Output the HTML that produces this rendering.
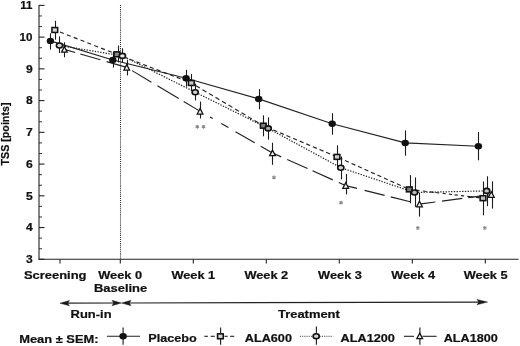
<!DOCTYPE html>
<html><head><meta charset="utf-8"><title>chart</title>
<style>html,body{margin:0;padding:0;background:#fff;}svg{display:block;filter:grayscale(1);}text{font-family:"Liberation Sans",sans-serif;font-weight:bold;fill:#111;stroke:#111;stroke-width:0.22px;}</style>
</head><body>
<svg width="520" height="346" viewBox="0 0 520 346">
<rect width="520" height="346" fill="#fff"/>
<g stroke="#222" stroke-width="1.1" fill="none">
<line x1="39.0" y1="4.880000000000024" x2="39.0" y2="259.8"/>
<line x1="38.5" y1="259.3" x2="518.6" y2="259.3"/>
<line x1="39.0" y1="259.30" x2="44.5" y2="259.30"/>
<line x1="39.0" y1="248.72" x2="42.0" y2="248.72" stroke-width="0.9"/>
<line x1="39.0" y1="238.14" x2="42.0" y2="238.14" stroke-width="0.9"/>
<line x1="39.0" y1="227.56" x2="44.5" y2="227.56"/>
<line x1="39.0" y1="216.98" x2="42.0" y2="216.98" stroke-width="0.9"/>
<line x1="39.0" y1="206.40" x2="42.0" y2="206.40" stroke-width="0.9"/>
<line x1="39.0" y1="195.82" x2="44.5" y2="195.82"/>
<line x1="39.0" y1="185.24" x2="42.0" y2="185.24" stroke-width="0.9"/>
<line x1="39.0" y1="174.66" x2="42.0" y2="174.66" stroke-width="0.9"/>
<line x1="39.0" y1="164.08" x2="44.5" y2="164.08"/>
<line x1="39.0" y1="153.50" x2="42.0" y2="153.50" stroke-width="0.9"/>
<line x1="39.0" y1="142.92" x2="42.0" y2="142.92" stroke-width="0.9"/>
<line x1="39.0" y1="132.34" x2="44.5" y2="132.34"/>
<line x1="39.0" y1="121.76" x2="42.0" y2="121.76" stroke-width="0.9"/>
<line x1="39.0" y1="111.18" x2="42.0" y2="111.18" stroke-width="0.9"/>
<line x1="39.0" y1="100.60" x2="44.5" y2="100.60"/>
<line x1="39.0" y1="90.02" x2="42.0" y2="90.02" stroke-width="0.9"/>
<line x1="39.0" y1="79.44" x2="42.0" y2="79.44" stroke-width="0.9"/>
<line x1="39.0" y1="68.86" x2="44.5" y2="68.86"/>
<line x1="39.0" y1="58.28" x2="42.0" y2="58.28" stroke-width="0.9"/>
<line x1="39.0" y1="47.70" x2="42.0" y2="47.70" stroke-width="0.9"/>
<line x1="39.0" y1="37.12" x2="44.5" y2="37.12"/>
<line x1="39.0" y1="26.54" x2="42.0" y2="26.54" stroke-width="0.9"/>
<line x1="39.0" y1="15.96" x2="42.0" y2="15.96" stroke-width="0.9"/>
<line x1="39.0" y1="5.38" x2="44.5" y2="5.38"/>
<line x1="60" y1="259.3" x2="60" y2="263.5"/>
<line x1="120.3" y1="259.3" x2="120.3" y2="263.5"/>
<line x1="193.3" y1="259.3" x2="193.3" y2="263.5"/>
<line x1="266.3" y1="259.3" x2="266.3" y2="263.5"/>
<line x1="339.3" y1="259.3" x2="339.3" y2="263.5"/>
<line x1="412.3" y1="259.3" x2="412.3" y2="263.5"/>
<line x1="485.3" y1="259.3" x2="485.3" y2="263.5"/>
</g>
<line x1="120.5" y1="5" x2="120.5" y2="259" stroke="#2a2a2a" stroke-width="1.05" stroke-dasharray="1 0.95"/>
<text transform="translate(32.85,263.10) scale(1.12,1)" font-size="10.8" text-anchor="end" stroke="#111" stroke-width="0.45">3</text>
<text transform="translate(32.85,231.36) scale(1.12,1)" font-size="10.8" text-anchor="end" stroke="#111" stroke-width="0.45">4</text>
<text transform="translate(32.85,199.62) scale(1.12,1)" font-size="10.8" text-anchor="end" stroke="#111" stroke-width="0.45">5</text>
<text transform="translate(32.85,167.88) scale(1.12,1)" font-size="10.8" text-anchor="end" stroke="#111" stroke-width="0.45">6</text>
<text transform="translate(32.85,136.14) scale(1.12,1)" font-size="10.8" text-anchor="end" stroke="#111" stroke-width="0.45">7</text>
<text transform="translate(32.85,104.40) scale(1.12,1)" font-size="10.8" text-anchor="end" stroke="#111" stroke-width="0.45">8</text>
<text transform="translate(32.85,72.66) scale(1.12,1)" font-size="10.8" text-anchor="end" stroke="#111" stroke-width="0.45">9</text>
<text transform="translate(32.40,40.92) scale(1.07,1)" font-size="10.8" text-anchor="end" stroke="#111" stroke-width="0.45">10</text>
<text transform="translate(32.40,9.18) scale(1.07,1)" font-size="10.8" text-anchor="end" stroke="#111" stroke-width="0.45">11</text>
<text transform="translate(9.0,134) rotate(-90) scale(1.0,1.0)" font-size="10.7" text-anchor="middle">TSS [points]</text>
<text transform="translate(55.20,278.60) scale(1.147,1)" font-size="11.3" text-anchor="middle">Screening</text>
<text transform="translate(120.20,278.60) scale(1.133236,1)" font-size="11.3" text-anchor="middle">Week 0</text>
<text transform="translate(193.30,278.60) scale(1.133236,1)" font-size="11.3" text-anchor="middle">Week 1</text>
<text transform="translate(266.30,278.60) scale(1.133236,1)" font-size="11.3" text-anchor="middle">Week 2</text>
<text transform="translate(340.00,278.60) scale(1.133236,1)" font-size="11.3" text-anchor="middle">Week 3</text>
<text transform="translate(413.20,278.60) scale(1.133236,1)" font-size="11.3" text-anchor="middle">Week 4</text>
<text transform="translate(485.70,278.60) scale(1.133236,1)" font-size="11.3" text-anchor="middle">Week 5</text>
<text transform="translate(120.60,292.30) scale(1.147,1)" font-size="11.3" text-anchor="middle">Baseline</text>
<text transform="translate(91.10,317.50) scale(1.147,1)" font-size="11.3" text-anchor="middle">Run-in</text>
<text transform="translate(308.90,318.20) scale(1.147,1)" font-size="11.3" text-anchor="middle">Treatment</text>
<g stroke="#222" stroke-width="1.1" fill="#1a1a1a">
<line x1="63" y1="303.14" x2="118" y2="303.01"/>
<line x1="125" y1="302.99" x2="484" y2="302.11"/>
<path d="M59.9,303.15 L69.5,300.45 L67.7,303.15 L69.5,305.85 Z" stroke="#1a1a1a" stroke-width="0.4" stroke-linejoin="round"/>
<path d="M121.5,303.00 L111.9,300.30 L113.7,303.00 L111.9,305.70 Z" stroke="#1a1a1a" stroke-width="0.4" stroke-linejoin="round"/>
<path d="M121.5,303.00 L131.1,300.30 L129.3,303.00 L131.1,305.70 Z" stroke="#1a1a1a" stroke-width="0.4" stroke-linejoin="round"/>
<path d="M487.6,302.10 L477.0,299.40 L478.8,302.10 L477.0,304.80 Z" stroke="#1a1a1a" stroke-width="0.4" stroke-linejoin="round"/>
</g>
<path d="M50.40,40.90 L112.80,60.00 L186.10,78.20 L258.70,98.90 L332.20,123.80 L405.20,142.90 L478.40,146.20" fill="none" stroke="#222" stroke-width="1.15"/>
<path d="M59.50,45.50 L122.40,55.90 L195.20,92.20 L268.20,128.40 L340.80,167.70 L414.50,192.50 L486.70,190.90" fill="none" stroke="#222" stroke-width="1.2" stroke-dasharray="1.35 1.4"/>
<polyline points="54.80,30.00 56.95,30.84" fill="none" stroke="#222" stroke-width="1.15"/>
<polyline points="60.00,32.03 63.80,33.52" fill="none" stroke="#222" stroke-width="1.15"/>
<polyline points="66.85,34.72 70.65,36.20" fill="none" stroke="#222" stroke-width="1.15"/>
<polyline points="73.70,37.40 77.50,38.88" fill="none" stroke="#222" stroke-width="1.15"/>
<polyline points="80.55,40.08 84.35,41.56" fill="none" stroke="#222" stroke-width="1.15"/>
<polyline points="87.40,42.76 91.20,44.24" fill="none" stroke="#222" stroke-width="1.15"/>
<polyline points="94.25,45.44 98.05,46.92" fill="none" stroke="#222" stroke-width="1.15"/>
<polyline points="101.10,48.12 104.90,49.60" fill="none" stroke="#222" stroke-width="1.15"/>
<polyline points="107.95,50.80 111.75,52.28" fill="none" stroke="#222" stroke-width="1.15"/>
<polyline points="114.80,53.48 116.90,54.30" fill="none" stroke="#222" stroke-width="1.15"/>
<polyline points="116.90,54.30 120.20,55.57" fill="none" stroke="#222" stroke-width="1.15"/>
<polyline points="123.10,56.69 126.90,58.16" fill="none" stroke="#222" stroke-width="1.15"/>
<polyline points="129.80,59.28 133.60,60.74" fill="none" stroke="#222" stroke-width="1.15"/>
<polyline points="136.50,61.86 140.30,63.33" fill="none" stroke="#222" stroke-width="1.15"/>
<polyline points="143.20,64.45 147.00,65.91" fill="none" stroke="#222" stroke-width="1.15"/>
<polyline points="149.90,67.03 153.70,68.50" fill="none" stroke="#222" stroke-width="1.15"/>
<polyline points="156.60,69.61 160.40,71.08" fill="none" stroke="#222" stroke-width="1.15"/>
<polyline points="163.30,72.20 167.10,73.66" fill="none" stroke="#222" stroke-width="1.15"/>
<polyline points="170.00,74.78 173.80,76.25" fill="none" stroke="#222" stroke-width="1.15"/>
<polyline points="176.70,77.37 180.50,78.83" fill="none" stroke="#222" stroke-width="1.15"/>
<polyline points="183.40,79.95 187.20,81.42" fill="none" stroke="#222" stroke-width="1.15"/>
<polyline points="190.10,82.54 191.30,83.00" fill="none" stroke="#222" stroke-width="1.15"/>
<polyline points="191.30,83.00 193.40,84.25" fill="none" stroke="#222" stroke-width="1.15"/>
<polyline points="196.00,85.79 199.90,88.10" fill="none" stroke="#222" stroke-width="1.15"/>
<polyline points="202.50,89.64 206.40,91.96" fill="none" stroke="#222" stroke-width="1.15"/>
<polyline points="209.00,93.50 212.90,95.81" fill="none" stroke="#222" stroke-width="1.15"/>
<polyline points="215.50,97.35 219.40,99.66" fill="none" stroke="#222" stroke-width="1.15"/>
<polyline points="222.00,101.21 225.90,103.52" fill="none" stroke="#222" stroke-width="1.15"/>
<polyline points="228.50,105.06 232.40,107.37" fill="none" stroke="#222" stroke-width="1.15"/>
<polyline points="235.00,108.92 238.90,111.23" fill="none" stroke="#222" stroke-width="1.15"/>
<polyline points="241.50,112.77 245.40,115.08" fill="none" stroke="#222" stroke-width="1.15"/>
<polyline points="248.00,116.63 251.90,118.94" fill="none" stroke="#222" stroke-width="1.15"/>
<polyline points="254.50,120.48 258.40,122.79" fill="none" stroke="#222" stroke-width="1.15"/>
<polyline points="261.00,124.34 263.30,125.70" fill="none" stroke="#222" stroke-width="1.15"/>
<polyline points="263.30,125.70 264.00,126.00" fill="none" stroke="#222" stroke-width="1.15"/>
<polyline points="266.70,127.14 270.60,128.79" fill="none" stroke="#222" stroke-width="1.15"/>
<polyline points="273.30,129.93 277.20,131.58" fill="none" stroke="#222" stroke-width="1.15"/>
<polyline points="279.90,132.73 283.80,134.38" fill="none" stroke="#222" stroke-width="1.15"/>
<polyline points="286.50,135.52 290.40,137.17" fill="none" stroke="#222" stroke-width="1.15"/>
<polyline points="293.10,138.32 297.00,139.97" fill="none" stroke="#222" stroke-width="1.15"/>
<polyline points="299.70,141.11 303.60,142.76" fill="none" stroke="#222" stroke-width="1.15"/>
<polyline points="306.30,143.90 310.20,145.55" fill="none" stroke="#222" stroke-width="1.15"/>
<polyline points="312.90,146.70 316.80,148.35" fill="none" stroke="#222" stroke-width="1.15"/>
<polyline points="319.50,149.49 323.40,151.14" fill="none" stroke="#222" stroke-width="1.15"/>
<polyline points="326.10,152.29 330.00,153.94" fill="none" stroke="#222" stroke-width="1.15"/>
<polyline points="332.70,155.08 336.60,156.73" fill="none" stroke="#222" stroke-width="1.15"/>
<polyline points="338.56,157.60 342.36,159.31" fill="none" stroke="#222" stroke-width="1.15"/>
<polyline points="345.04,160.51 348.84,162.22" fill="none" stroke="#222" stroke-width="1.15"/>
<polyline points="351.52,163.43 355.32,165.14" fill="none" stroke="#222" stroke-width="1.15"/>
<polyline points="358.00,166.34 361.80,168.05" fill="none" stroke="#222" stroke-width="1.15"/>
<polyline points="364.48,169.25 368.28,170.96" fill="none" stroke="#222" stroke-width="1.15"/>
<polyline points="370.96,172.17 374.76,173.87" fill="none" stroke="#222" stroke-width="1.15"/>
<polyline points="377.44,175.08 381.24,176.79" fill="none" stroke="#222" stroke-width="1.15"/>
<polyline points="383.92,177.99 387.72,179.70" fill="none" stroke="#222" stroke-width="1.15"/>
<polyline points="390.40,180.90 394.20,182.61" fill="none" stroke="#222" stroke-width="1.15"/>
<polyline points="396.88,183.82 400.68,185.53" fill="none" stroke="#222" stroke-width="1.15"/>
<polyline points="403.36,186.73 407.16,188.44" fill="none" stroke="#222" stroke-width="1.15"/>
<polyline points="415.50,190.14 419.50,190.62" fill="none" stroke="#222" stroke-width="1.15"/>
<polyline points="422.90,191.02 426.70,191.48" fill="none" stroke="#222" stroke-width="1.15"/>
<polyline points="429.90,191.86 433.70,192.31" fill="none" stroke="#222" stroke-width="1.15"/>
<polyline points="435.60,192.54 439.40,192.99" fill="none" stroke="#222" stroke-width="1.15"/>
<polyline points="442.60,193.38 445.70,193.75" fill="none" stroke="#222" stroke-width="1.15"/>
<polyline points="448.90,194.13 452.10,194.51" fill="none" stroke="#222" stroke-width="1.15"/>
<polyline points="454.60,194.81 457.80,195.19" fill="none" stroke="#222" stroke-width="1.15"/>
<polyline points="461.00,195.57 464.10,195.94" fill="none" stroke="#222" stroke-width="1.15"/>
<polyline points="467.30,196.33 473.60,197.08" fill="none" stroke="#222" stroke-width="1.15"/>
<polyline points="476.00,197.36 483.00,198.20" fill="none" stroke="#222" stroke-width="1.15"/>
<polyline points="64.40,49.40 75.20,52.52" fill="none" stroke="#222" stroke-width="1.15"/>
<polyline points="80.30,53.99 100.40,59.80" fill="none" stroke="#222" stroke-width="1.15"/>
<polyline points="106.60,61.59 126.70,67.40" fill="none" stroke="#222" stroke-width="1.15"/>
<polyline points="132.10,70.63 151.40,82.17" fill="none" stroke="#222" stroke-width="1.15"/>
<polyline points="157.40,85.76 178.70,98.50" fill="none" stroke="#222" stroke-width="1.15"/>
<polyline points="183.70,101.49 199.80,111.12" fill="none" stroke="#222" stroke-width="1.15"/>
<polyline points="209.80,116.89 212.80,118.61" fill="none" stroke="#222" stroke-width="1.15"/>
<polyline points="221.30,123.51 228.40,127.60" fill="none" stroke="#222" stroke-width="1.15"/>
<polyline points="235.50,131.69 254.70,142.75" fill="none" stroke="#222" stroke-width="1.15"/>
<polyline points="260.70,146.20 272.50,153.00" fill="none" stroke="#222" stroke-width="1.15"/>
<polyline points="272.70,153.09 281.20,156.87" fill="none" stroke="#222" stroke-width="1.15"/>
<polyline points="287.20,159.55 307.50,168.59" fill="none" stroke="#222" stroke-width="1.15"/>
<polyline points="312.50,170.81 332.80,179.85" fill="none" stroke="#222" stroke-width="1.15"/>
<polyline points="338.80,182.53 345.70,185.60" fill="none" stroke="#222" stroke-width="1.15"/>
<polyline points="345.70,185.60 357.00,188.43" fill="none" stroke="#222" stroke-width="1.15"/>
<polyline points="364.60,190.34 384.60,195.35" fill="none" stroke="#222" stroke-width="1.15"/>
<polyline points="390.70,196.88 410.20,201.77" fill="none" stroke="#222" stroke-width="1.15"/>
<polyline points="421.00,203.90 435.30,202.01" fill="none" stroke="#222" stroke-width="1.15"/>
<polyline points="442.00,201.12 462.30,198.44" fill="none" stroke="#222" stroke-width="1.15"/>
<polyline points="468.30,197.64 480.00,196.10" fill="none" stroke="#222" stroke-width="1.15"/>
<polyline points="488.00,195.04 491.30,194.60" fill="none" stroke="#222" stroke-width="1.15"/>
<line x1="50.5" y1="33.3" x2="50.5" y2="49.6" stroke="#1c1c1c" stroke-width="1.1"/>
<line x1="113.5" y1="52.0" x2="113.5" y2="67.6" stroke="#1c1c1c" stroke-width="1.1"/>
<line x1="186.5" y1="69.8" x2="186.5" y2="86.7" stroke="#1c1c1c" stroke-width="1.1"/>
<line x1="259.5" y1="89.1" x2="259.5" y2="109.2" stroke="#1c1c1c" stroke-width="1.1"/>
<line x1="332.5" y1="113.2" x2="332.5" y2="134.7" stroke="#1c1c1c" stroke-width="1.1"/>
<line x1="405.5" y1="130.4" x2="405.5" y2="155.7" stroke="#1c1c1c" stroke-width="1.1"/>
<line x1="478.5" y1="132.0" x2="478.5" y2="160.3" stroke="#1c1c1c" stroke-width="1.1"/>
<line x1="55.5" y1="20.8" x2="55.5" y2="39.7" stroke="#1c1c1c" stroke-width="1.1"/>
<line x1="118.5" y1="45.5" x2="118.5" y2="62.4" stroke="#1c1c1c" stroke-width="1.1"/>
<line x1="191.5" y1="74.0" x2="191.5" y2="91.0" stroke="#1c1c1c" stroke-width="1.1"/>
<line x1="263.5" y1="115.3" x2="263.5" y2="136.3" stroke="#1c1c1c" stroke-width="1.1"/>
<line x1="337.5" y1="145.3" x2="337.5" y2="166.0" stroke="#1c1c1c" stroke-width="1.1"/>
<line x1="410.5" y1="175.1" x2="410.5" y2="203.3" stroke="#1c1c1c" stroke-width="1.1"/>
<line x1="483.5" y1="181.4" x2="483.5" y2="215.3" stroke="#1c1c1c" stroke-width="1.1"/>
<line x1="59.5" y1="36.4" x2="59.5" y2="53.0" stroke="#1c1c1c" stroke-width="1.1"/>
<line x1="122.5" y1="48.3" x2="122.5" y2="62.6" stroke="#1c1c1c" stroke-width="1.1"/>
<line x1="195.5" y1="83.5" x2="195.5" y2="100.5" stroke="#1c1c1c" stroke-width="1.1"/>
<line x1="268.5" y1="117.3" x2="268.5" y2="139.7" stroke="#1c1c1c" stroke-width="1.1"/>
<line x1="341.5" y1="156.5" x2="341.5" y2="179.4" stroke="#1c1c1c" stroke-width="1.1"/>
<line x1="415.5" y1="177.4" x2="415.5" y2="206.9" stroke="#1c1c1c" stroke-width="1.1"/>
<line x1="487.5" y1="176.3" x2="487.5" y2="206.2" stroke="#1c1c1c" stroke-width="1.1"/>
<line x1="64.5" y1="42.3" x2="64.5" y2="57.2" stroke="#1c1c1c" stroke-width="1.1"/>
<line x1="127.5" y1="59.8" x2="127.5" y2="75.4" stroke="#1c1c1c" stroke-width="1.1"/>
<line x1="200.5" y1="101.6" x2="200.5" y2="118.5" stroke="#1c1c1c" stroke-width="1.1"/>
<line x1="272.5" y1="142.8" x2="272.5" y2="164.8" stroke="#1c1c1c" stroke-width="1.1"/>
<line x1="346.5" y1="174.0" x2="346.5" y2="194.4" stroke="#1c1c1c" stroke-width="1.1"/>
<line x1="419.5" y1="193.0" x2="419.5" y2="216.6" stroke="#1c1c1c" stroke-width="1.1"/>
<line x1="492.5" y1="181.3" x2="492.5" y2="208.6" stroke="#1c1c1c" stroke-width="1.1"/>
<ellipse cx="50.4" cy="40.9" rx="3.7" ry="3.25" fill="#111"/>
<ellipse cx="112.8" cy="60.0" rx="3.7" ry="3.25" fill="#111"/>
<ellipse cx="186.1" cy="78.2" rx="3.7" ry="3.25" fill="#111"/>
<ellipse cx="258.7" cy="98.9" rx="3.7" ry="3.25" fill="#111"/>
<ellipse cx="332.2" cy="123.8" rx="3.7" ry="3.25" fill="#111"/>
<ellipse cx="405.2" cy="142.9" rx="3.7" ry="3.25" fill="#111"/>
<ellipse cx="478.4" cy="146.2" rx="3.7" ry="3.25" fill="#111"/>
<rect x="51.95" y="27.55" width="5.7" height="4.9" fill="#d6d6d6" stroke="#111" stroke-width="1.55"/>
<rect x="114.05" y="51.85" width="5.7" height="4.9" fill="#8a8a8a" stroke="#111" stroke-width="1.55"/>
<rect x="188.45" y="80.55" width="5.7" height="4.9" fill="#c8c8c8" stroke="#111" stroke-width="1.55"/>
<rect x="260.45" y="123.25" width="5.7" height="4.9" fill="#808080" stroke="#111" stroke-width="1.55"/>
<rect x="334.15" y="154.45" width="5.7" height="4.9" fill="#cccccc" stroke="#111" stroke-width="1.55"/>
<rect x="406.45" y="186.95" width="5.7" height="4.9" fill="#7c7c7c" stroke="#111" stroke-width="1.55"/>
<rect x="480.15" y="195.75" width="5.7" height="4.9" fill="#bdbdbd" stroke="#111" stroke-width="1.55"/>
<ellipse cx="59.50" cy="45.50" rx="3.1" ry="2.5" fill="#d8d8d8" stroke="#111" stroke-width="1.6"/>
<ellipse cx="122.40" cy="55.90" rx="3.1" ry="2.5" fill="#e6e6e6" stroke="#111" stroke-width="1.6"/>
<ellipse cx="195.20" cy="92.20" rx="3.1" ry="2.5" fill="#cfcfcf" stroke="#111" stroke-width="1.6"/>
<ellipse cx="268.20" cy="128.40" rx="3.1" ry="2.5" fill="#a8a8a8" stroke="#111" stroke-width="1.6"/>
<ellipse cx="340.80" cy="167.70" rx="3.1" ry="2.5" fill="#d0d0d0" stroke="#111" stroke-width="1.6"/>
<ellipse cx="414.50" cy="192.50" rx="3.1" ry="2.5" fill="#b8b8b8" stroke="#111" stroke-width="1.6"/>
<ellipse cx="486.70" cy="190.90" rx="3.1" ry="2.5" fill="#c6c6c6" stroke="#111" stroke-width="1.6"/>
<path d="M64.4,46.5 L67.2,52.1 L61.6,52.1 Z" fill="#f0f0f0" stroke="#111" stroke-width="1.25"/>
<path d="M126.7,64.5 L129.6,70.1 L123.9,70.1 Z" fill="#f0f0f0" stroke="#111" stroke-width="1.25"/>
<path d="M200.1,108.4 L202.9,114.0 L197.2,114.0 Z" fill="#f0f0f0" stroke="#111" stroke-width="1.25"/>
<path d="M272.5,150.1 L275.4,155.7 L269.6,155.7 Z" fill="#f0f0f0" stroke="#111" stroke-width="1.25"/>
<path d="M345.7,182.7 L348.6,188.3 L342.8,188.3 Z" fill="#f0f0f0" stroke="#111" stroke-width="1.25"/>
<path d="M419.5,201.2 L422.4,206.8 L416.6,206.8 Z" fill="#f0f0f0" stroke="#111" stroke-width="1.25"/>
<path d="M491.3,191.7 L494.2,197.3 L488.4,197.3 Z" fill="#f0f0f0" stroke="#111" stroke-width="1.25"/>
<path d="M197.3,124.9 L197.3,128.70000000000002 M195.60000000000002,125.80000000000001 L199.0,127.80000000000001 M195.60000000000002,127.80000000000001 L199.0,125.80000000000001" stroke="#8a8a8a" stroke-width="1.15" fill="none"/>
<path d="M203.5,124.9 L203.5,128.70000000000002 M201.8,125.80000000000001 L205.2,127.80000000000001 M201.8,127.80000000000001 L205.2,125.80000000000001" stroke="#8a8a8a" stroke-width="1.15" fill="none"/>
<path d="M274.0,175.5 L274.0,179.3 M272.3,176.4 L275.7,178.4 M272.3,178.4 L275.7,176.4" stroke="#8a8a8a" stroke-width="1.15" fill="none"/>
<path d="M341,200.8 L341,204.60000000000002 M339.3,201.70000000000002 L342.7,203.70000000000002 M339.3,203.70000000000002 L342.7,201.70000000000002" stroke="#8a8a8a" stroke-width="1.15" fill="none"/>
<path d="M417.8,226.0 L417.8,229.8 M416.1,226.9 L419.5,228.9 M416.1,228.9 L419.5,226.9" stroke="#8a8a8a" stroke-width="1.15" fill="none"/>
<path d="M484.8,226.0 L484.8,229.8 M483.1,226.9 L486.5,228.9 M483.1,228.9 L486.5,226.9" stroke="#8a8a8a" stroke-width="1.15" fill="none"/>
<text transform="translate(19.20,342.60) scale(1.141265,1)" font-size="11.3" text-anchor="start">Mean ± SEM:</text>
<line x1="106.9" y1="336.3" x2="140" y2="336.3" stroke="#222" stroke-width="1.1"/>
<line x1="123.1" y1="327.6" x2="123.1" y2="344.8" stroke="#222" stroke-width="1.15"/>
<ellipse cx="123.1" cy="336.3" rx="3.7" ry="3.25" fill="#111"/>
<text transform="translate(148.30,342.00) scale(1.118325,1)" font-size="11.3" text-anchor="start">Placebo</text>
<line x1="204.3" y1="336.3" x2="207.9" y2="336.3" stroke="#222" stroke-width="1.1"/>
<line x1="210.7" y1="336.3" x2="214.8" y2="336.3" stroke="#222" stroke-width="1.1"/>
<line x1="224.5" y1="336.3" x2="227.7" y2="336.3" stroke="#222" stroke-width="1.1"/>
<line x1="230.1" y1="336.3" x2="234.2" y2="336.3" stroke="#222" stroke-width="1.1"/>
<line x1="220.6" y1="327.6" x2="220.6" y2="344.8" stroke="#222" stroke-width="1.15"/>
<rect x="217.55" y="333.85" width="5.7" height="4.9" fill="#d2d2d2" stroke="#111" stroke-width="1.55"/>
<text transform="translate(244.80,342.00) scale(1.120619,1)" font-size="11.3" text-anchor="start">ALA600</text>
<line x1="299.9" y1="336.3" x2="333.2" y2="336.3" stroke="#444" stroke-width="1.0" stroke-dasharray="1.1 1.1"/>
<line x1="316.4" y1="326.6" x2="316.4" y2="344.8" stroke="#222" stroke-width="1.15"/>
<ellipse cx="316.20" cy="336.30" rx="3.1" ry="2.5" fill="#d2d2d2" stroke="#111" stroke-width="1.6"/>
<text transform="translate(340.60,341.70) scale(1.12406,1)" font-size="11.3" text-anchor="start">ALA1200</text>
<line x1="403.9" y1="336.3" x2="414.0" y2="336.3" stroke="#222" stroke-width="1.1"/>
<line x1="422.5" y1="336.3" x2="436.6" y2="336.3" stroke="#222" stroke-width="1.1"/>
<line x1="419.9" y1="327.6" x2="419.9" y2="344.8" stroke="#222" stroke-width="1.15"/>
<path d="M419.7,333.1 L422.6,338.7 L416.8,338.7 Z" fill="#f0f0f0" stroke="#111" stroke-width="1.25"/>
<text transform="translate(443.70,341.70) scale(1.118325,1)" font-size="11.3" text-anchor="start">ALA1800</text>
</svg></body></html>
